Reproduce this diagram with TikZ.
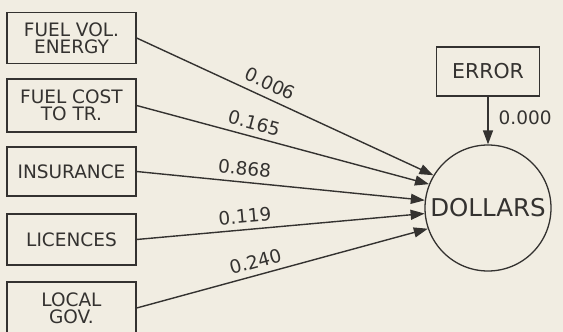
\documentclass[tikz,border=0pt]{standalone}
\usepackage{fontspec}
\setmainfont{DejaVu Sans}
\usetikzlibrary{arrows.meta}
\definecolor{paper}{RGB}{241,237,226}
\definecolor{ink}{RGB}{52,50,48}
\tikzset{
  var/.style={draw=ink, line width=1.3pt, rectangle, minimum width=129pt,
    minimum height=51pt, inner sep=0pt, align=center, text=ink,
    font=\fontsize{18.5}{15}\selectfont},
  res/.style={draw=ink, line width=1.3pt, circle, minimum size=126pt,
    inner sep=0pt, text=ink, font=\fontsize{24.5}{24.5}\selectfont},
  arr/.style={draw=ink, line width=1.4pt, -{Triangle[length=14pt,width=10pt]}},
  coef/.style={text=ink, font=\fontsize{18.5}{18.5}\selectfont, inner sep=1pt}
}
\begin{document}
\begin{tikzpicture}[x=1pt, y=-1pt]
  \fill[paper] (0,0) rectangle (563,332);
  \clip (0,0) rectangle (563,332);

  % explanatory variables
  \node[var] (fve) at (71.5,38)  {FUEL VOL.\\[2pt]ENERGY};
  \node[var, minimum height=53pt] (fct) at (71.5,105.5) {FUEL COST\\[2pt]TO TR.};
  \node[var, minimum height=49pt] (ins) at (71.5,171.5) {INSURANCE};
  \node[var] (lic) at (71.5,239.5) {LICENCES};
  \node[var, minimum height=52pt] (lgv) at (71.5,308) {LOCAL\\[2pt]GOV.};

  % response and error term
  \node[res] (dol) at (488,208) {DOLLARS};
  \node[var, minimum width=103pt, minimum height=49pt,
        font=\fontsize{20.5}{20.5}\selectfont] (err) at (488,71.5) {ERROR};

  % path coefficients
  \draw[arr] (fve.east) -- (dol.149)
    node[coef, sloped, above=6pt, pos=0.43] {0.006};
  \draw[arr] (fct.east) -- (dol.158)
    node[coef, sloped, above=5pt, pos=0.39] {0.165};
  \draw[arr] (ins.east) -- (dol.173)
    node[coef, sloped, above=5pt, pos=0.37] {0.868};
  \draw[arr] (lic.east) -- (dol.185)
    node[coef, sloped, above=5pt, pos=0.38] {0.119};
  \draw[arr] (lgv.east) -- (dol.199)
    node[coef, sloped, above=5pt, pos=0.42] {0.240};
  \draw[arr] (err) -- (dol)
    node[coef, right=9pt, pos=0.45] {0.000};
\end{tikzpicture}
\end{document}
